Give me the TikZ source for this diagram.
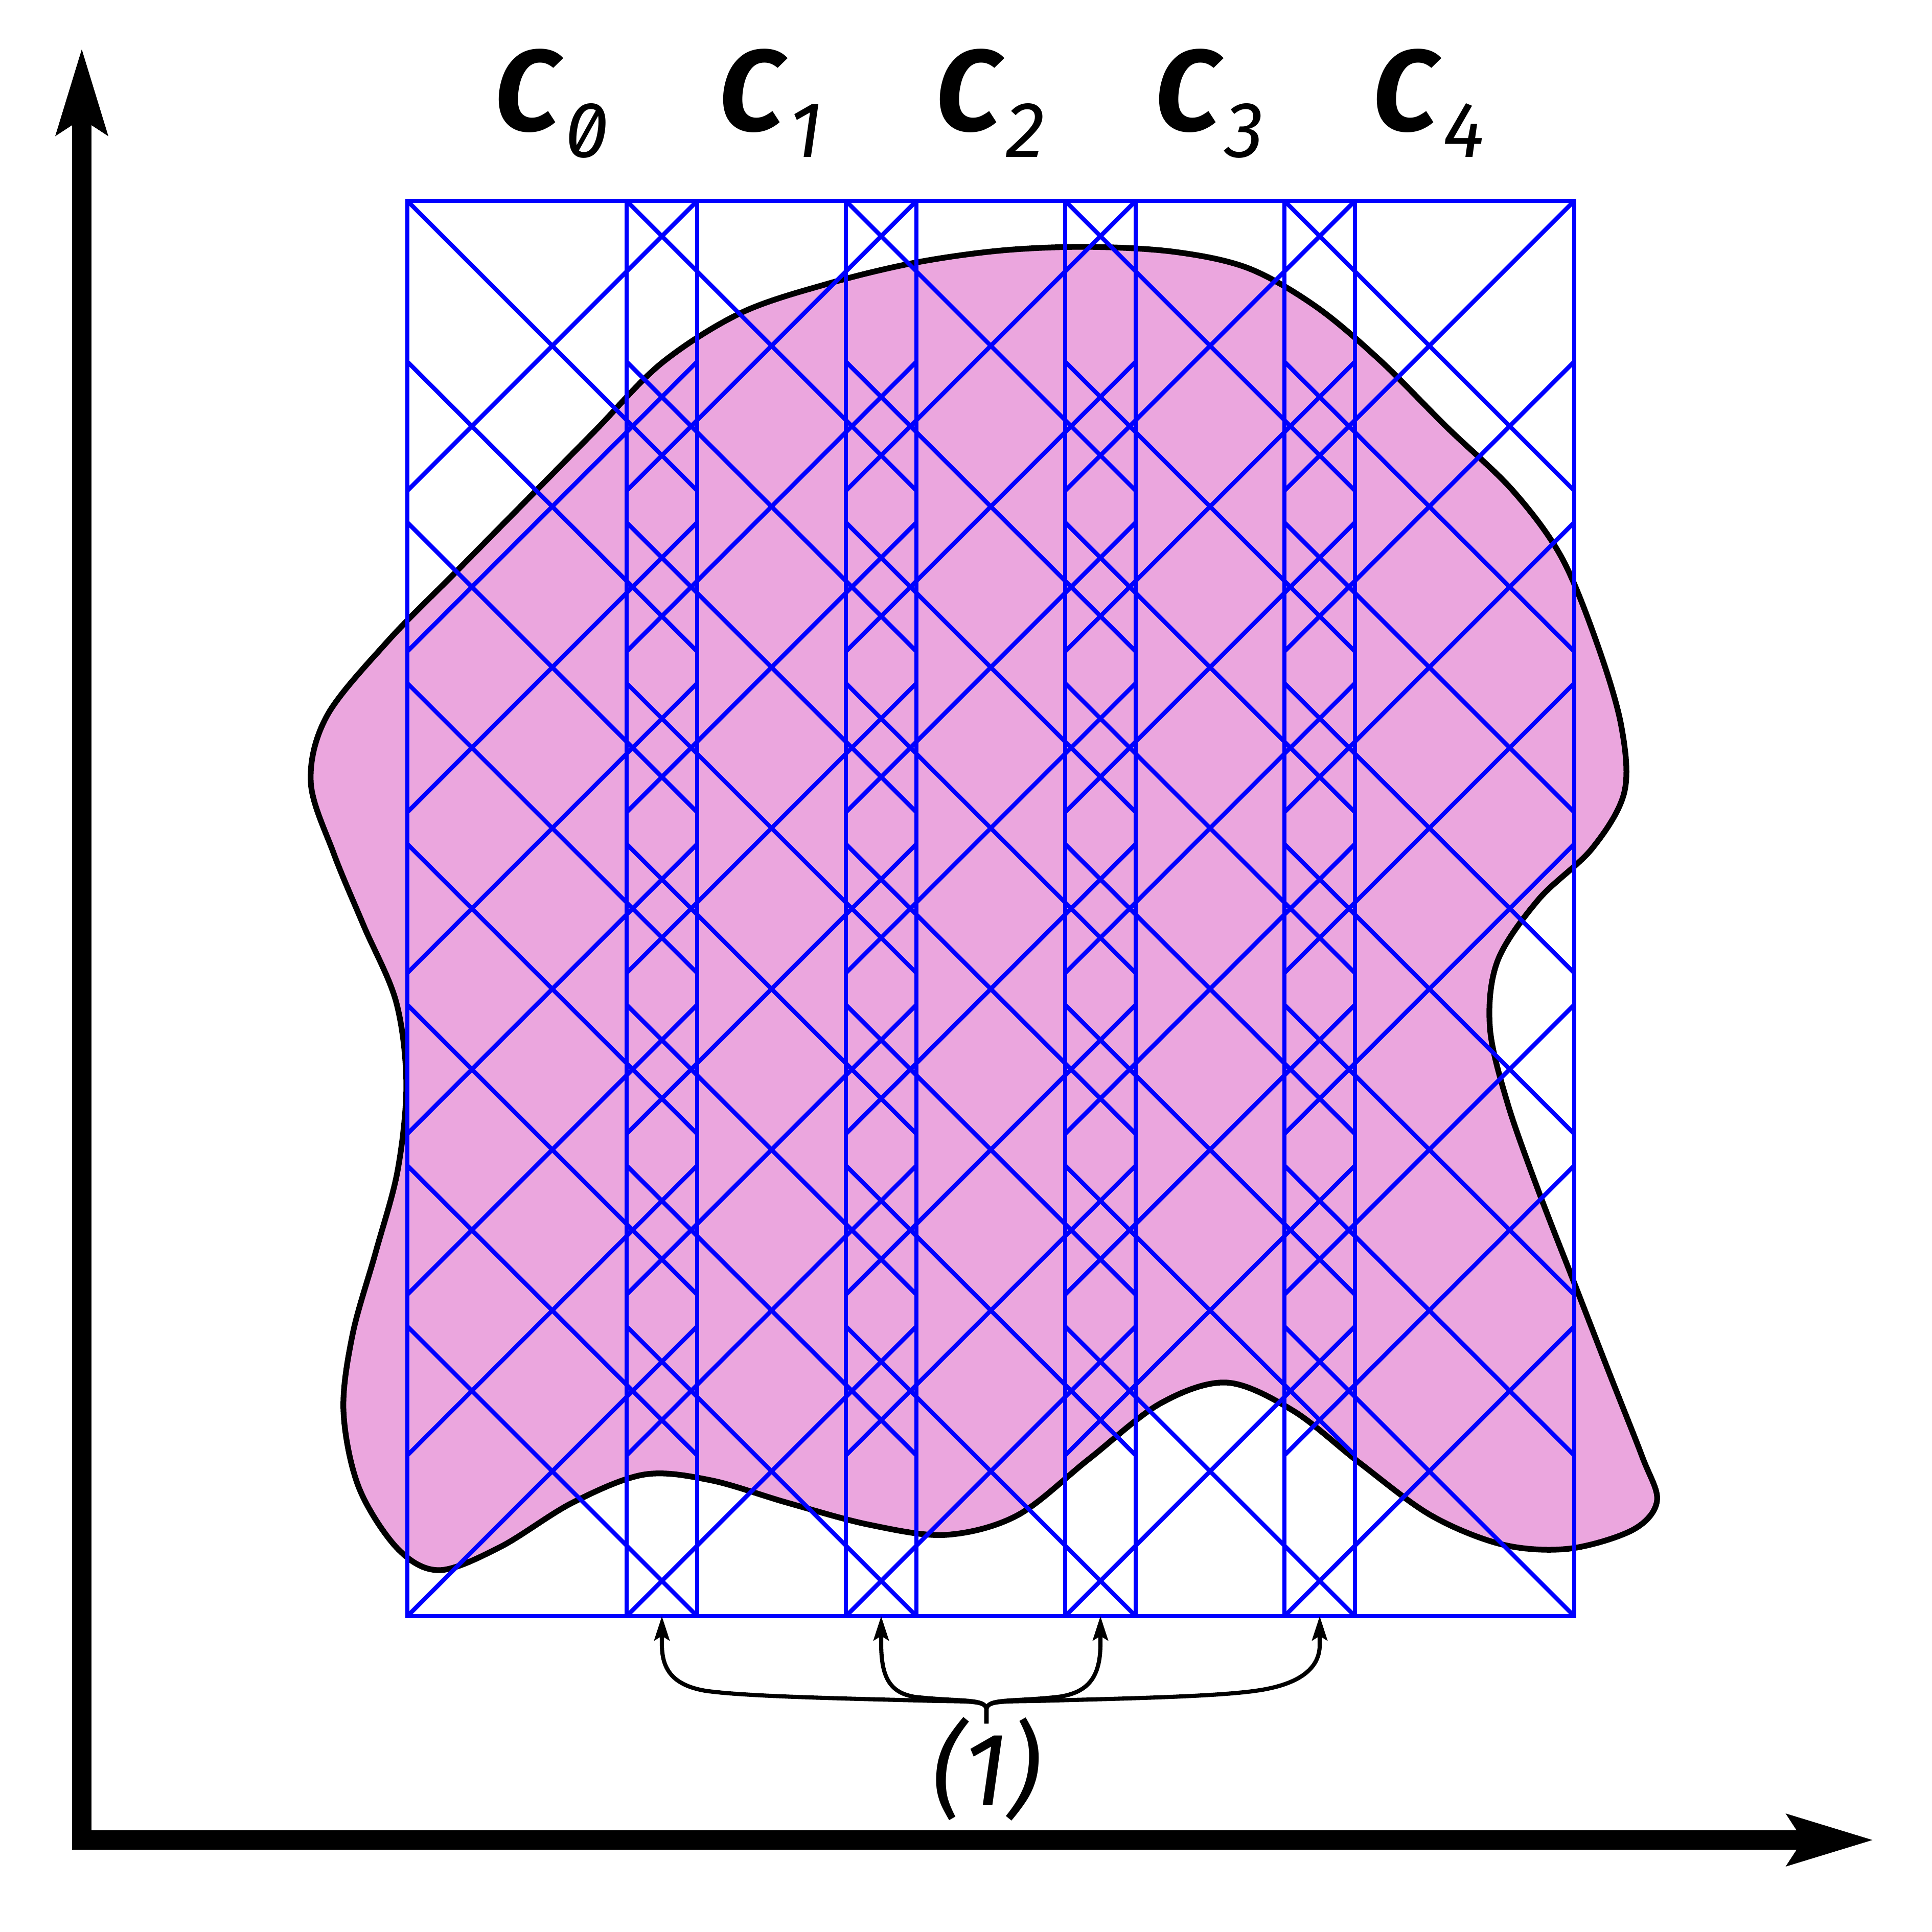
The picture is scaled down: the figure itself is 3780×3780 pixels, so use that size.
\documentclass[tikz,border=0pt]{standalone}
\usepackage{fontspec}
\newfontfamily\lblfont{Fira Sans}[Numbers=SlashedZero]
\usetikzlibrary{arrows.meta}
\definecolor{blobpink}{RGB}{235,166,222}
\definecolor{gridblue}{RGB}{0,0,255}
\tikzset{
  gridline/.style={gridblue, line width=2.4pt},
  blob/.style={fill=blobpink, draw=black, line width=3.2pt},
  axisline/.style={line width=10.8pt, line join=miter,
    {Stealth[length=47.5pt,width=27.3pt,inset=8pt]}-{Stealth[length=47.5pt,width=27.3pt,inset=8pt]}},
  brarrow/.style={line width=2.3pt, -{Stealth[length=13.5pt,width=8.5pt,inset=2.5pt]}},
  clab/.style={anchor=base, inner sep=0pt},
}
\newcommand\myclabel[1]{{\lblfont\fontsize{64}{64}\selectfont\bfseries\itshape C}\kern 3pt\raisebox{-15pt}{\lblfont\fontsize{44}{44}\selectfont\itshape #1}}
\begin{document}
\begin{tikzpicture}[x=0.01cm,y=-0.01cm]
\useasboundingbox (0,0) rectangle (3780,3780);
% blob
\draw[blob] plot[smooth cycle, tension=0.55] coordinates {
 (640,1400) (760,1253) (890,1121) (1030,979) (1165,842) (1295,710)
 (1450,612) (1620,555) (1790,514) (1960,490) (2130,483) (2300,493)
 (2443,525) (2575,600) (2700,705) (2830,835) (2960,960) (3055,1090)
 (3125,1260) (3172,1420) (3178,1550) (3115,1660) (3010,1760) (2930,1880)
 (2915,2010) (2950,2160) (3010,2330) (3080,2510) (3150,2690) (3213,2850)
 (3242,2936) (3195,2993) (3070,3030) (2940,3022) (2800,2965) (2660,2862)
 (2530,2760) (2400,2705) (2270,2746) (2130,2855) (1990,2965) (1850,3003)
 (1700,2983) (1540,2940) (1390,2896) (1260,2885) (1120,2940) (980,3026)
 (860,3072) (778,3030) (702,2910) (672,2760) (690,2610) (735,2450)
 (778,2290) (795,2120) (775,1960) (712,1812) (653,1670) (608,1530)};
% cover grid
\foreach \i in {0,...,4}{
  \pgfmathsetmacro\L{797+429*\i}
  \draw[gridline] (\L,393) rectangle ({\L+567},3162);
  \foreach \k in {0,...,7}{
    \pgfmathsetmacro\ya{393+314.571*\k}
    \pgfmathsetmacro\yb{3162-314.571*\k}
    \draw[gridline] (\L,\ya) -- ({\L+567},{\ya+567});
    \draw[gridline] (\L,\yb) -- ({\L+567},{\yb-567});
  }
}
% labels
\foreach \i in {0,...,4}{
  \node[clab] (c\i) at ({1079+429*\i},255) {\myclabel{\i}};
}
% axes
\coordinate (O) at (160,3600);
\coordinate (ytop) at (160,93);
\coordinate (xend) at (3667,3600);
\draw[axisline] (ytop) -- (O) -- (xend);
% overlap label and arrows
\node[anchor=base, inner sep=0pt] (one) at (1930,3532) {\lblfont\fontsize{58}{58}\selectfont\itshape (1)};
\coordinate (bt) at (1930,3372);
\coordinate (o1) at (1295,3162);
\coordinate (o2) at (1724,3162);
\coordinate (o3) at (2153,3162);
\coordinate (o4) at (2582,3162);
\draw[brarrow] (bt) -- (1930,3345) .. controls (1930,3325) and (1890,3330) .. (1800,3327)
  .. controls (1600,3322) and (1450,3318) .. (1380,3308)
  .. controls (1310,3296) and (1296,3260) .. (1295,3220) -- (o1);
\draw[brarrow] (bt) -- (1930,3345) .. controls (1930,3322) and (1880,3330) .. (1790,3320)
  .. controls (1740,3312) and (1725,3280) .. (1724,3220) -- (o2);
\draw[brarrow] (bt) -- (1930,3345) .. controls (1930,3322) and (1980,3330) .. (2070,3320)
  .. controls (2130,3312) and (2152,3280) .. (2153,3220) -- (o3);
\draw[brarrow] (bt) -- (1930,3345) .. controls (1930,3325) and (1970,3330) .. (2060,3327)
  .. controls (2250,3322) and (2400,3318) .. (2470,3306)
  .. controls (2550,3292) and (2581,3260) .. (2582,3220) -- (o4);
\end{tikzpicture}
\end{document}
